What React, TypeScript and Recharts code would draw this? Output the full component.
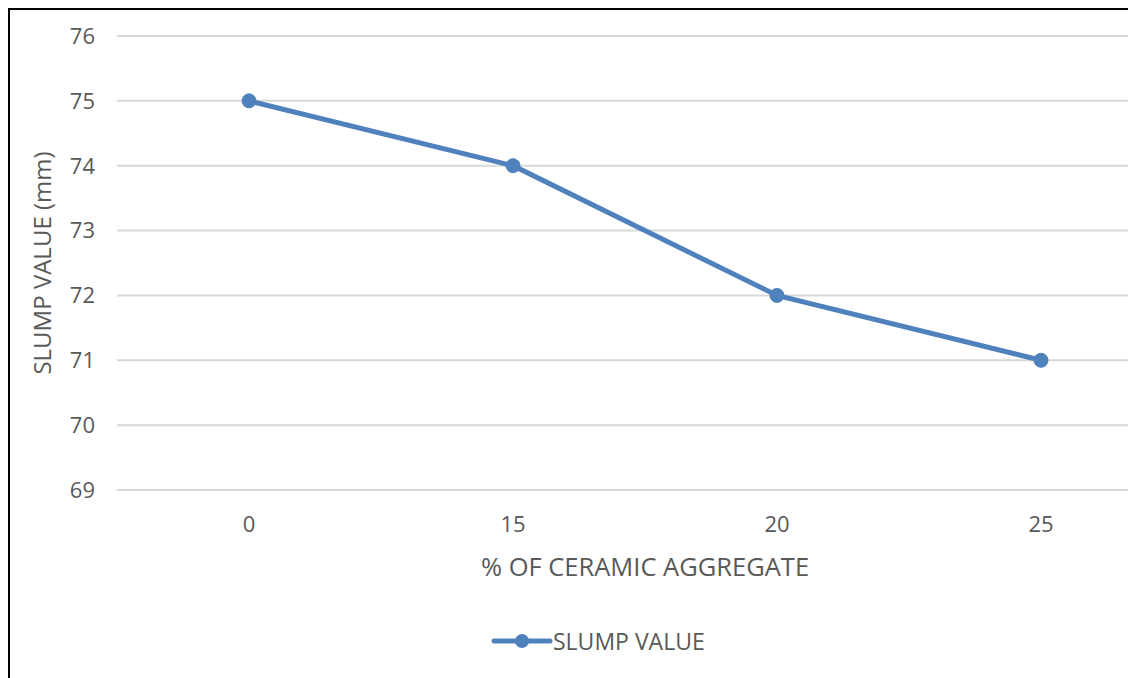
import React from 'react';
import { LineChart, Line, XAxis, YAxis, CartesianGrid, Legend } from 'recharts';

// % of ceramic aggregate vs slump value (mm)
const ceramicPct = ['0', '15', '20', '25'];
const slumpValues = [75, 74, 72, 71];
const yTicks = [69, 70, 71, 72, 73, 74, 75, 76];

const chartData = ceramicPct.map((pct, i) => ({ pct, slump: slumpValues[i] }));

const FONT = '"Open Sans", sans-serif';
const TEXT = '#595959';
const BLUE = '#4F81BD';

const renderLegend = () => (
  <div style={{ display: 'flex', alignItems: 'center', fontFamily: FONT }}>
    <svg width={62} height={20}>
      <line x1={3} y1={10} x2={59} y2={10} stroke={BLUE} strokeWidth={5} strokeLinecap="round" />
      <circle cx={31} cy={10} r={7} fill={BLUE} />
    </svg>
    <span style={{ color: TEXT, fontSize: 23, lineHeight: '20px' }}>SLUMP VALUE</span>
  </div>
);

const App = () => (
  <div
    style={{
      width: 1128,
      height: 670,
      overflow: 'hidden',
      borderLeft: '2px solid #000',
      borderTop: '2px solid #000',
      boxSizing: 'border-box',
      background: '#fff',
    }}
  >
    <LineChart
      width={1200}
      height={668}
      data={chartData}
      margin={{ top: 26, right: 37, bottom: 78, left: 0 }}
      style={{ fontFamily: FONT }}
    >
      <CartesianGrid stroke="#d9d9d9" strokeWidth={2} vertical={false} />
      <XAxis
        dataKey="pct"
        axisLine={false}
        tickLine={false}
        height={90}
        tickMargin={20}
        padding={{ left: 132, right: 132 }}
        tick={{ fill: TEXT, fontSize: 22 }}
        label={{ value: '% OF CERAMIC AGGREGATE', position: 'insideBottom', offset: 4, fill: TEXT, fontSize: 25.5 }}
      />
      <YAxis
        domain={[69, 76]}
        ticks={yTicks}
        interval={0}
        axisLine={false}
        tickLine={false}
        width={107}
        tickMargin={16}
        tick={{ fill: TEXT, fontSize: 22 }}
        label={{
          value: 'SLUMP VALUE (mm)',
          angle: -90,
          position: 'insideLeft',
          offset: 32,
          fill: TEXT,
          fontSize: 24,
          style: { textAnchor: 'middle' },
        }}
      />
      <Legend
        verticalAlign="bottom"
        content={renderLegend}
        wrapperStyle={{ left: 481, width: 270, top: 621 }}
      />
      <Line
        type="linear"
        dataKey="slump"
        name="SLUMP VALUE"
        stroke={BLUE}
        strokeWidth={5}
        dot={{ r: 7, fill: BLUE, stroke: BLUE, strokeWidth: 1 }}
        isAnimationActive={false}
      />
    </LineChart>
  </div>
);

export default App;
